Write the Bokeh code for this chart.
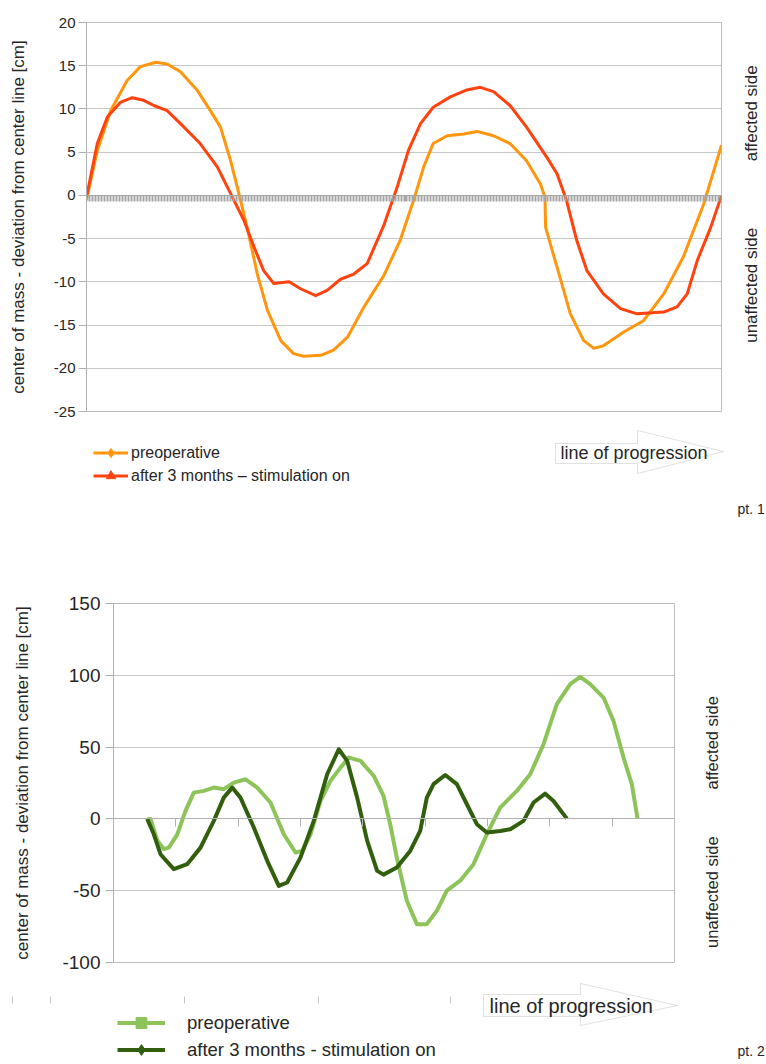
import math
from bokeh.plotting import figure
from bokeh.models import (Range1d, FixedTicker, LinearAxis, Legend, LegendItem,
                          Label, PolyAnnotation)
from bokeh.layouts import row
from bokeh.embed import file_html
from bokeh.resources import INLINE

FONT = "Liberation Sans"

# ---------------- data: patient 1 (x = position along line of progression, 0-100) ----------------
pt1_pre_x = [0, 1.7, 3.8, 6.4, 8.5, 10.9, 12.7, 14.8, 17.4, 19.5, 21.1, 22.7, 24.0, 25.3, 26.9,
             28.5, 30.6, 32.6, 34.2, 36.9, 38.9, 41.1, 43.7, 46.8, 49.4, 51.5, 53.1, 54.6, 56.8,
             59.4, 61.5, 64.1, 66.7, 69.3, 71.5, 72.2, 72.3, 74.1, 76.2, 78.3, 79.9, 81.4, 84.6,
             87.7, 90.9, 94.0, 97.2, 100.0]
pt1_pre_y = [-0.5, 5.2, 9.8, 13.3, 14.9, 15.4, 15.2, 14.3, 12.2, 9.8, 7.9, 4.0, 0.2, -3.7, -9.1,
             -13.3, -16.8, -18.3, -18.6, -18.5, -17.9, -16.4, -12.9, -9.3, -5.2, -0.6, 3.3, 6.0, 6.9,
             7.1, 7.4, 6.9, 6.0, 4.0, 1.3, -0.2, -3.7, -8.3, -13.7, -16.8, -17.7, -17.4, -15.8,
             -14.5, -11.4, -7.1, -1.0, 5.8]
pt1_post_x = [0, 1.7, 3.3, 5.4, 7.2, 9.0, 10.6, 12.7, 14.8, 17.9, 20.6, 22.7, 24.8, 26.4, 27.9,
              29.5, 31.9, 33.7, 36.1, 37.9, 40.0, 42.1, 44.2, 46.8, 48.9, 50.7, 52.6, 54.6, 57.3,
              59.9, 62.0, 64.1, 66.7, 69.3, 72.5, 74.1, 75.6, 77.2, 78.8, 81.4, 84.1, 86.7, 90.9,
              93.0, 94.6, 96.2, 98.3, 100.0]
pt1_post_y = [-0.2, 6.0, 9.1, 10.8, 11.3, 11.0, 10.4, 9.8, 8.3, 6.0, 3.3, 0.2, -2.9, -6.0, -8.7,
              -10.2, -10.0, -10.8, -11.6, -11.0, -9.7, -9.1, -7.9, -3.5, 0.9, 5.2, 8.3, 10.2, 11.4,
              12.2, 12.5, 12.0, 10.4, 7.9, 4.4, 2.5, -0.6, -5.2, -8.7, -11.4, -13.1, -13.7, -13.5,
              -12.9, -11.4, -7.5, -3.7, 0.0]
pt1_yticks = [-25, -20, -15, -10, -5, 0, 5, 10, 15, 20]
pt1_categories = 212

# ---------------- data: patient 2 (x = category position, 0-9) ----------------
pt2_pre_x = [0.541, 0.594, 0.701, 0.807, 0.887, 1.022, 1.155, 1.288, 1.449, 1.609, 1.769, 1.930,
             2.118, 2.305, 2.518, 2.732, 2.920, 3.027, 3.161, 3.321, 3.481, 3.642, 3.775, 3.963,
             4.176, 4.332, 4.439, 4.545, 4.706, 4.866, 5.027, 5.187, 5.347, 5.562, 5.776, 5.989,
             6.204, 6.470, 6.685, 6.899, 7.112, 7.327, 7.487, 7.648, 7.861, 8.022, 8.182, 8.315,
             8.407]
pt2_pre_y = [0, 0, -15, -21, -20, -11, 5.6, 18.3, 19.5, 21.8, 20.7, 25.3, 27.6, 21.8, 11.4, -10.7,
             -23.4, -22.3, -10.7, 12.5, 26.5, 35.7, 42.7, 40.4, 29.9, 16, -3.7, -27, -57, -73.3,
             -73.3, -64, -50, -43, -31.5, -10.7, 7.9, 19.5, 31.1, 52, 79.9, 93.8, 98.9, 93.8, 84.5,
             68.2, 42.7, 24.2, 0.2]
pt2_post_x = [0.541, 0.647, 0.754, 0.967, 1.182, 1.396, 1.609, 1.769, 1.904, 2.037, 2.251, 2.466,
              2.652, 2.786, 2.999, 3.213, 3.428, 3.614, 3.749, 3.909, 4.070, 4.230, 4.332, 4.545,
              4.760, 4.920, 5.027, 5.134, 5.322, 5.508, 5.669, 5.829, 5.989, 6.204, 6.365, 6.578,
              6.739, 6.926, 7.059, 7.273]
pt2_post_y = [0, -10.7, -24.6, -35, -31.5, -20, -1.4, 14.8, 21.8, 14.8, -6, -29.2, -46.6, -44.3,
              -27, -1.4, 31.1, 48.5, 40.4, 14.8, -15.3, -36.2, -38.8, -33.9, -22.3, -8.4, 14.8,
              24.2, 30.6, 24.2, 10.2, -3.7, -9.5, -8.4, -7.2, -1.4, 11.4, 17.6, 12.5, 0.2]
pt2_yticks = [-100, -50, 0, 50, 100, 150]
pt2_xticks = [1, 2, 3, 4, 5, 6, 7, 8]

side_labels_text = ["affected side", "unaffected side"]
labels_pt1 = ["preoperative", "after 3 months \u2013 stimulation on"]
labels_pt2 = ["preoperative", "after 3 months - stimulation on"]
YLABEL = "center of mass - deviation from center line [cm]"

ORANGE = "#ff960e"
RED = "#ff420e"
LGREEN = "#8dc45a"
DGREEN = "#325f0e"
GRID = "#c6c6c6"
AXIS = "#b0b0b0"
TXT = "#262626"
W = 766


def chart(width, height, xr, yr, bl, br, bt, bb, yticks):
    p = figure(width=width, height=height, x_range=xr, y_range=yr,
               output_backend="svg", toolbar_location=None, x_axis_location=None,
               min_border_left=bl, min_border_right=br, min_border_top=bt, min_border_bottom=bb)
    p.background_fill_color = "white"
    p.border_fill_color = "white"
    p.outline_line_color = "#bdbdbd"
    p.xgrid.visible = False
    p.ygrid.grid_line_color = GRID
    p.ygrid.ticker = FixedTicker(ticks=yticks)
    ax = p.yaxis[0]
    ax.ticker = FixedTicker(ticks=yticks)
    ax.major_label_overrides = {v: str(v) for v in yticks}
    ax.axis_line_color = AXIS
    ax.major_tick_line_color = AXIS
    ax.major_tick_out = 8
    ax.major_tick_in = 0
    ax.minor_tick_line_color = None
    ax.major_label_text_font = FONT
    ax.major_label_text_color = TXT
    ax.axis_label = YLABEL
    ax.axis_label_text_font = FONT
    ax.axis_label_text_font_style = "normal"
    ax.axis_label_text_color = TXT
    ax.axis_label_text_font_size = "17px"
    return p


def side(width, height, yr, bt, bb, x, ys, size):
    s = figure(width=width, height=height, x_range=Range1d(0, width), y_range=yr,
               output_backend="svg", toolbar_location=None, x_axis_location=None,
               y_axis_location=None, min_border_left=0, min_border_right=0,
               min_border_top=bt, min_border_bottom=bb)
    s.xgrid.visible = False
    s.ygrid.visible = False
    s.outline_line_color = None
    for t, y in zip(side_labels_text, ys):
        s.add_layout(Label(x=x, y=y, text=t, angle=math.pi / 2, text_align="center",
                           text_baseline="middle", text_font=FONT, text_font_size=size,
                           text_color=TXT))
    return s


def zero_axis(p, ticks, out, width, color):
    ax = LinearAxis(fixed_location=0, ticker=FixedTicker(ticks=ticks),
                    major_tick_out=out, major_tick_in=0, major_tick_line_width=width,
                    major_tick_line_color=color, axis_line_color=color,
                    major_label_text_color=None, major_label_text_font_size="0px",
                    major_label_standoff=0, minor_tick_line_color=None)
    p.add_layout(ax, "below")


def deco(y0, y1):
    d = figure(width=W, height=y1 - y0, x_range=Range1d(0, W), y_range=Range1d(y1, y0),
               output_backend="svg", toolbar_location=None, x_axis_location=None,
               y_axis_location=None, min_border=0)
    d.xgrid.visible = False
    d.ygrid.visible = False
    d.outline_line_color = None
    d.background_fill_color = "white"
    d.border_fill_color = "white"
    return d


def arrow(d, x0, xb, xt, yt, yb, ht, hb, ym):
    xs = [x0, xb, xb, xt, xb, xb, x0]
    ys = [yt, yt, ht, ym, hb, yb, yb]
    d.add_layout(PolyAnnotation(xs=xs, ys=ys, fill_color="white", fill_alpha=1.0,
                                line_color="#9a9a9a", line_width=1))


def text(d, x, y, s, size):
    d.add_layout(Label(x=x, y=y, text=s, text_baseline="middle", text_font=FONT,
                       text_font_size=size, text_color=TXT))


def legend(d, labels, colors, markers, lw, loc, gw, gh, standoff, size):
    items = []
    off = [-1000]  # legend-only renderers, kept outside the visible strip
    for lab, c, m in zip(labels, colors, markers):
        ln = d.line(off * 2, off * 2, line_color=c, line_width=lw)
        sc = d.scatter(off, off, marker=m, color=c, size=10)
        items.append(LegendItem(label=lab, renderers=[ln, sc]))
    lg = Legend(items=items, location=loc, orientation="vertical", border_line_color=None,
                background_fill_alpha=0, padding=0, margin=0, spacing=0,
                glyph_width=gw, glyph_height=gh, label_height=gh, label_standoff=standoff,
                label_text_font=FONT, label_text_font_size=size, label_text_color=TXT)
    d.add_layout(lg, "center")


# ================= chart 1 (page y 0-426) =================
p1 = chart(723, 426, Range1d(0, 100), Range1d(-25, 20), 86, 2, 22, 15, pt1_yticks)
p1.yaxis[0].major_label_text_font_size = "15px"
p1.yaxis[0].major_label_standoff = 3
p1.yaxis[0].axis_label_standoff = 23
zero_axis(p1, [i * 100 / pt1_categories for i in range(pt1_categories + 1)], 6, 2, "#a6a6a6")
p1.line(pt1_pre_x, pt1_pre_y, line_color=ORANGE, line_width=3, line_join="round")
p1.line(pt1_post_x, pt1_post_y, line_color=RED, line_width=3, line_join="round")
s1 = side(43, 426, p1.y_range, 22, 15, 28, [9.5, -10.4], "17px")

# legend / arrow strip (page y 426-520)
d1 = deco(426, 520)
legend(d1, labels_pt1, [ORANGE, RED], ["diamond", "triangle"], 3, (93, 33),
       35, 23, 3, "16px")
arrow(d1, 555, 637, 723, 443, 463, 430, 473, 451)
text(d1, 560, 452, "line of progression", "18px")
text(d1, 737, 508, "pt. 1", "14px")

# ================= chart 2 (page y 520-978) =================
p2 = chart(676, 458, Range1d(0, 9), Range1d(-100, 150), 113, 2, 83, 16, pt2_yticks)
p2.yaxis[0].major_label_text_font_size = "19px"
p2.yaxis[0].major_label_standoff = 5
p2.yaxis[0].axis_label_standoff = 27
zero_axis(p2, pt2_xticks, 8, 1, AXIS)
p2.line(pt2_pre_x, pt2_pre_y, line_color=LGREEN, line_width=4, line_join="round")
p2.line(pt2_post_x, pt2_post_y, line_color=DGREEN, line_width=4, line_join="round")
s2 = side(90, 458, p2.y_range, 83, 16, 35, [53, -51], "16.5px")

# legend / arrow strip (page y 978-1064)
d2 = deco(978, 1064)
legend(d2, labels_pt2, [LGREEN, DGREEN], ["square", "diamond"], 4, (117, 1),
       48, 27, 22, "18.5px")
arrow(d2, 483, 580, 677, 994, 1016, 983, 1025, 1005)
text(d2, 489, 1005, "line of progression", "20px")
text(d2, 737, 1050, "pt. 2", "14px")
d2.segment(x0=[12, 50, 184, 318, 450], y0=[996] * 5, x1=[12, 50, 184, 318, 450], y1=[1003] * 5,
           line_color="#c4c4c4", line_width=1)

open("out.html", "w").write(file_html([row(p1, s1), d1, row(p2, s2), d2], INLINE))
